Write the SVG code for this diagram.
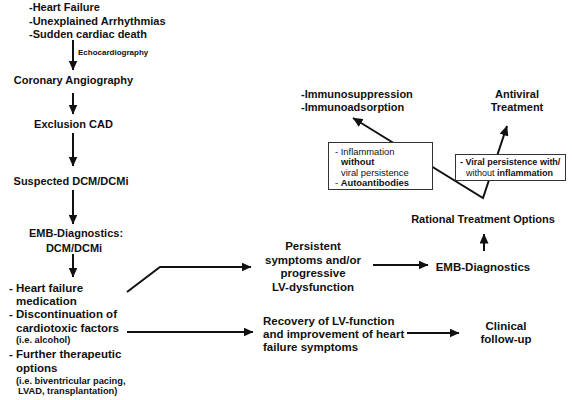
<svg xmlns="http://www.w3.org/2000/svg" width="572" height="400" viewBox="0 0 572 400">
<defs>
<marker id="ah" markerUnits="userSpaceOnUse" markerWidth="10" markerHeight="9" refX="9.5" refY="4.5" orient="auto-start-reverse">
<path d="M0,0 L10,4.5 L0,9 z" fill="#111"/>
</marker>
</defs>
<style>
text{font-family:"Liberation Sans",Arial,Helvetica,sans-serif;fill:#111;font-weight:bold}
.m{font-size:11px}
.l{font-size:11.5px}
.s{font-size:9.3px}
.b{font-size:9.4px}
.v{font-size:9px}
.n{font-weight:normal}
.c{text-anchor:middle}
.conn line,.conn path,.conn polyline{stroke:#111;stroke-width:2;fill:none}
.box{fill:#fff;stroke:#333;stroke-width:1}
</style>
<rect width="572" height="400" fill="#fff"/>
<g class="conn" id="connectors">
<line x1="73" y1="40" x2="73" y2="70" marker-end="url(#ah)"/>
<line x1="73" y1="93" x2="73" y2="114" marker-end="url(#ah)"/>
<line x1="73" y1="133" x2="73" y2="166" marker-end="url(#ah)"/>
<line x1="73" y1="190" x2="73" y2="224" marker-end="url(#ah)"/>
<line x1="73" y1="254" x2="73" y2="277" marker-end="url(#ah)"/>
<polyline points="127,292 160,267 251,267" marker-end="url(#ah)"/>
<line x1="127" y1="332" x2="253" y2="332" marker-end="url(#ah)"/>
<line x1="373" y1="265" x2="428" y2="265" marker-end="url(#ah)"/>
<line x1="484" y1="251" x2="484" y2="234" marker-end="url(#ah)"/>
<line x1="407" y1="333" x2="459" y2="333" marker-end="url(#ah)"/>
<path d="M353,118 L483,198 L507,126" stroke-linejoin="miter" marker-start="url(#ah)" marker-end="url(#ah)"/>
</g>
<g id="n-presentation">
<text class="m" x="29" y="11">-Heart Failure</text>
<text class="m" x="29" y="25">-Unexplained Arrhythmias</text>
<text class="m" x="29" y="38">-Sudden cardiac death</text>
</g>
<g id="lbl-echo"><text class="s" x="78" y="55" style="font-size:8px">Echocardiography</text></g>
<g id="n-angio"><text class="m c" x="73.5" y="84">Coronary Angiography</text></g>
<g id="n-cad"><text class="m c" x="73.5" y="127.5">Exclusion CAD</text></g>
<g id="n-suspected"><text class="m c" x="71" y="185">Suspected DCM/DCMi</text></g>
<g id="n-emb1">
<text class="m c" x="76" y="237">EMB-Diagnostics:</text>
<text class="m c" x="74" y="252">DCM/DCMi</text>
</g>
<g id="n-therapy">
<text class="l" x="9" y="292">- Heart failure</text>
<text class="l" x="16" y="305">medication</text>
<text class="l" x="9" y="318">- Discontinuation of</text>
<text class="l" x="16" y="332">cardiotoxic factors</text>
<text class="s" x="16" y="342.5">(i.e. alcohol)</text>
<text class="l" x="9" y="358">- Further therapeutic</text>
<text class="l" x="16" y="372">options</text>
<text class="s" x="16" y="384">(i.e. biventricular pacing,</text>
<text class="s" x="18" y="393.5">LVAD, transplantation)</text>
</g>
<g id="n-persistent">
<text class="l c" x="313" y="250">Persistent</text>
<text class="l c" x="313" y="264">symptoms and/or</text>
<text class="l c" x="313" y="277">progressive</text>
<text class="l c" x="313" y="291">LV-dysfunction</text>
</g>
<g id="n-emb2"><text class="l c" x="483" y="271">EMB-Diagnostics</text></g>
<g id="n-rational"><text class="m c" x="483" y="223">Rational Treatment Options</text></g>
<g id="n-immuno">
<text class="m" x="301" y="98">-Immunosuppression</text>
<text class="m" x="301" y="111">-Immunoadsorption</text>
</g>
<g id="n-antiviral">
<text class="m c" x="517" y="98">Antiviral</text>
<text class="m c" x="517" y="111">Treatment</text>
</g>
<g id="n-box-inflammation">
<rect class="box" x="328.5" y="142.5" width="104" height="47"/>
<text class="b" x="335" y="154.5"><tspan class="n">- Inflammation</tspan></text>
<text class="b" x="341" y="165">without</text>
<text class="b n" x="341" y="175.5">viral persistence</text>
<text class="b" x="335" y="185.5"><tspan class="n">- </tspan>Autoantibodies</text>
</g>
<g id="n-box-viral">
<rect class="box" x="455.5" y="154.5" width="110" height="26"/>
<text class="v" x="460" y="165">- Viral persistence with/</text>
<text class="v" x="466" y="176"><tspan class="n">without </tspan>inflammation</text>
</g>
<g id="n-recovery">
<text class="l" x="263" y="325">Recovery of LV-function</text>
<text class="l" x="263" y="338">and improvement of heart</text>
<text class="l" x="263" y="351">failure symptoms</text>
</g>
<g id="n-followup">
<text class="l c" x="506" y="330">Clinical</text>
<text class="l c" x="506" y="343">follow-up</text>
</g>
</svg>
